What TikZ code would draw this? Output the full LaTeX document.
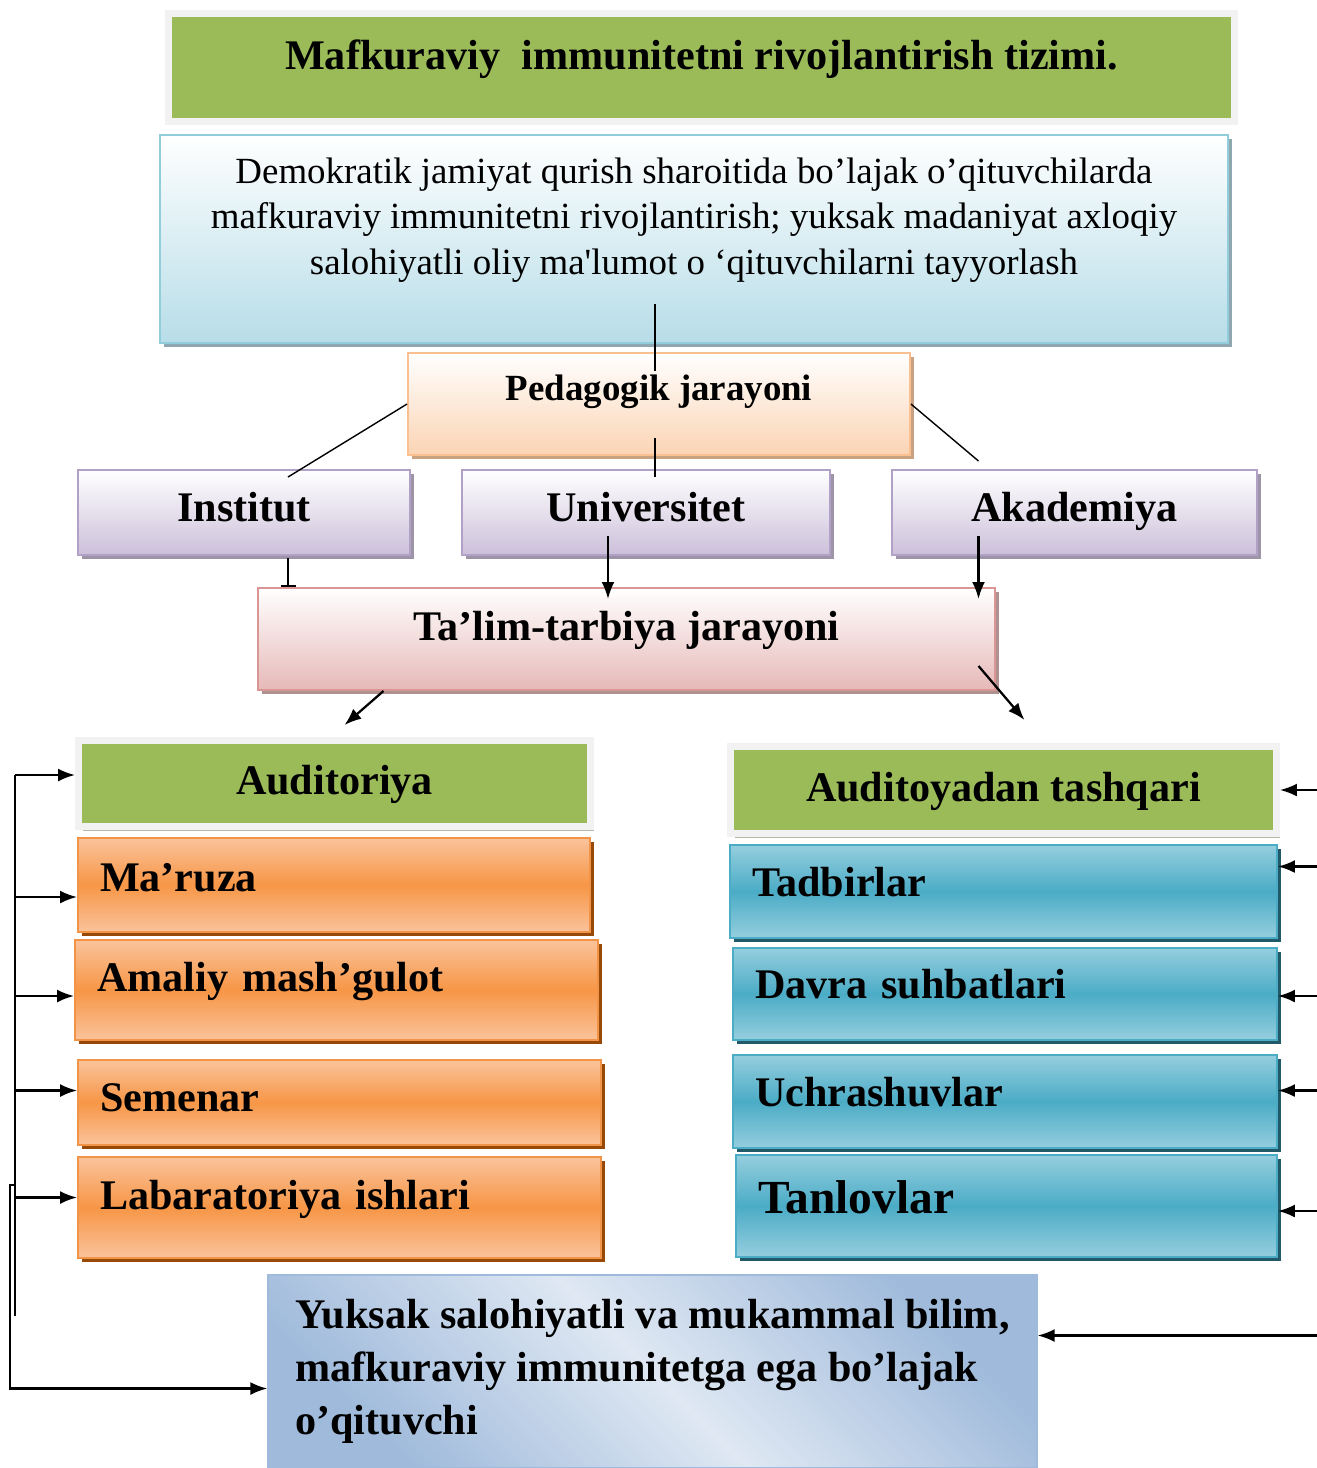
\documentclass[tikz,border=0pt]{standalone}
\usepackage{fontspec}
\setmainfont{Liberation Serif}
\usepackage{tikz}
\usetikzlibrary{
    arrows.meta,
    positioning,
    shadows,
    calc
}

\definecolor{hdrgreen}{HTML}{9BBB59}
\definecolor{framegray}{HTML}{F2F2F2}
\definecolor{hdrshadow}{HTML}{B3B9A6}
\definecolor{goalblue}{HTML}{B7DDE8}
\definecolor{goalline}{HTML}{92CDDC}
\definecolor{goalshadow}{HTML}{8FA7B0}
\definecolor{peach}{HTML}{FBD4B4}
\definecolor{peachline}{HTML}{FAC090}
\definecolor{peachshadow}{HTML}{C9A282}
\definecolor{lavender}{HTML}{CCC0DA}
\definecolor{lavline}{HTML}{B2A1C7}
\definecolor{lavshadow}{HTML}{9E94A8}
\definecolor{rose}{HTML}{E6B9B8}
\definecolor{roseline}{HTML}{D99694}
\definecolor{roseshadow}{HTML}{B09191}
\definecolor{orlight}{HTML}{FAC39B}
\definecolor{ormid}{HTML}{F79646}
\definecolor{orline}{HTML}{F29447}
\definecolor{orshadow}{HTML}{984807}
\definecolor{cylight}{HTML}{95CEDE}
\definecolor{cymid}{HTML}{4BACC6}
\definecolor{cyshadow}{HTML}{215968}
\definecolor{steel}{HTML}{9FBADB}
\definecolor{steellight}{HTML}{DFE8F3}

\begin{document}
\begin{tikzpicture}[
    x=0.02cm, y=-0.02cm,
    >={Latex[length=0.34cm, width=0.26cm]},
    casts/.style={drop shadow={shadow xshift=0.08cm, shadow yshift=-0.08cm,
                  opacity=1, fill=#1}},
    bigtxt/.style={font=\fontsize{24}{29}\selectfont\bfseries, text height=16pt},
    hdr/.style={rectangle, inner sep=0pt, bigtxt, fill=hdrgreen,
                draw=framegray, line width=0.14cm, casts=hdrshadow},
    goalbox/.style={rectangle, inner sep=0pt, align=center,
                    font=\fontsize{21}{26}\selectfont,
                    top color=white, bottom color=goalblue,
                    draw=goalline, line width=0.04cm, casts=goalshadow},
    pedbox/.style={rectangle, inner sep=0pt,
                   font=\fontsize{21}{25}\selectfont\bfseries, text height=14pt,
                   top color=white, bottom color=peach,
                   draw=peachline, line width=0.04cm, casts=peachshadow},
    tierbox/.style={rectangle, inner sep=0pt, bigtxt, minimum height=1.7cm,
                    top color=white, bottom color=lavender,
                    draw=lavline, line width=0.04cm, casts=lavshadow},
    rosebox/.style={rectangle, inner sep=0pt, bigtxt,
                    top color=white, bottom color=rose,
                    draw=roseline, line width=0.04cm, casts=roseshadow},
    orbox/.style={rectangle, inner ysep=0pt, inner xsep=0.44cm, bigtxt, align=left,
                  top color=orlight, bottom color=orlight, middle color=ormid,
                  draw=orline, line width=0.04cm, casts=orshadow},
    cybox/.style={rectangle, inner ysep=0pt, inner xsep=0.44cm, bigtxt, align=left,
                  top color=cylight, bottom color=cylight, middle color=cymid,
                  draw=cymid, line width=0.04cm, casts=cyshadow},
    endbox/.style={rectangle, inner sep=0pt, align=left,
                   font=\fontsize{24}{30}\selectfont\bfseries,
                   top color=steel, bottom color=steel, middle color=steellight,
                   shading angle=-45, draw=steel, line width=0.03cm},
    link/.style={line width=0.045cm},
    thinlink/.style={line width=0.028cm}
]
\useasboundingbox (0,0) rectangle (1317,1468);

% =========================
% 1) HEADER AND GOAL
% =========================
\node[hdr, minimum width=21.32cm, minimum height=2.16cm, text depth=14pt]
    (title) at (701.5,67.5) {Mafkuraviy\ \ immunitetni rivojlantirish tizimi.};

\node[goalbox, minimum width=21.36cm, minimum height=4.16cm] (goal) at (694,239)
    {Demokratik jamiyat qurish sharoitida bo’lajak o’qituvchilarda\\
     mafkuraviy immunitetni rivojlantirish; yuksak madaniyat axloqiy\\
     salohiyatli oliy ma\textquotesingle lumot o ‘qituvchilarni tayyorlash\\
     \mbox{}};

% =========================
% 2) PROCESS AND INSTITUTIONS
% =========================
\node[pedbox, minimum width=10.04cm, minimum height=2.04cm, text depth=18pt]
    (ped) at (659,404) {Pedagogik jarayoni};

\node[tierbox, minimum width=6.64cm, text depth=6pt]  (inst) at (244,512.5)    {Institut};
\node[tierbox, minimum width=7.36cm, text depth=6pt]  (univ) at (646,512.5)    {Universitet};
\node[tierbox, minimum width=7.3cm, text depth=6pt]   (aka)  at (1074.5,512.5) {Akademiya};

\node[rosebox, minimum width=14.74cm, minimum height=2.04cm, text depth=14pt]
    (talim) at (626.5,639) {Ta’lim-tarbiya jarayoni};

\draw[thinlink] ($(ped.north)+(-4,-48)$) -- ($(ped.north)+(-4,19)$);
\draw[thinlink] (ped.west) -- ($(inst.north)+(44,8)$);
\draw[thinlink] ($(ped.south)+(-4,-18)$) -- ($(univ.north)+(9,8)$);
\draw[thinlink] (ped.east) -- ($(aka.north)+(-96,-8)$);

\draw[link, -{Bar[width=0.3cm]}] ($(inst.south)+(44,2)$) -- ($(talim.north -| inst.south)+(44,0)$);
\draw[link, ->] ($(univ.south)+(-38,-20)$) -- ($(talim.north -| univ.south)+(-38,12)$);
\draw[link, ->] ($(aka.south)+(-96,-20)$) -- ($(talim.north -| aka.south)+(-96,12)$);

% =========================
% 3) TWO BRANCHES
% =========================
\node[hdr, minimum width=10.24cm, minimum height=1.72cm, text depth=4pt]
    (aud) at (334.5,783.5) {Auditoriya};
\node[hdr, minimum width=10.92cm, minimum height=1.74cm, text depth=3pt]
    (atq) at (1003.5,790) {Auditoyadan tashqari};

\draw[link, ->] ($(talim.south)+(-243,0)$) -- ($(aud.north)+(10,-12)$);
\draw[link, ->] ($(talim.south)+(352,-25)$) -- ($(atq.north)+(21,-23)$);

\node[orbox, text width=9.36cm, minimum height=1.88cm, text depth=9pt]
    (maruza) at (334,885) {Ma’ruza};
\node[orbox, text width=9.58cm, minimum height=2.0cm, text depth=14pt]
    (amaliy) at (336.5,990) {Amaliy mash’gulot};
\node[orbox, text width=9.58cm, minimum height=1.7cm, text depth=6pt]
    (semenar) at (339.5,1102.5) {Semenar};
\node[orbox, text width=9.58cm, minimum height=2.02cm, text depth=14pt]
    (lab) at (339.5,1207.5) {Labaratoriya ishlari};

\node[cybox, text width=10.06cm, minimum height=1.86cm, text depth=10pt]
    (tad) at (1003.5,891.5) {Tadbirlar};
\node[cybox, text width=10.0cm, minimum height=1.84cm, text depth=11pt]
    (davra) at (1005,994) {Davra suhbatlari};
\node[cybox, text width=10.0cm, minimum height=1.86cm, text depth=10pt]
    (uchr) at (1005,1101.5) {Uchrashuvlar};
\node[cybox, text width=9.94cm, minimum height=2.04cm, text depth=10pt,
      font=\fontsize{27}{32}\selectfont\bfseries, text height=18pt]
    (tanl) at (1006.5,1206) {Tanlovlar};

% =========================
% 4) RESULT
% =========================
\node[endbox, minimum width=15.38cm, minimum height=3.86cm] (final) at (652.5,1371.5)
    {Yuksak salohiyatli va mukammal bilim,\\
     mafkuraviy immunitetga ega bo’lajak\\
     o’qituvchi};

% left feed
\coordinate (ltop)  at (15,775);
\coordinate (lbot)  at (15,1316);
\coordinate (lstub) at (15,1185);
\draw[link] (ltop) -- (lbot);
\draw[link, ->] (ltop) -- (ltop -| aud.west);
\draw[link, ->] ($(ltop |- maruza.west)+(0,12)$) -- ($(maruza.west)+(0,12)$);
\draw[link, ->] ($(ltop |- amaliy.west)+(0,6)$) -- ($(amaliy.west)+(0,6)$);
\draw[link, ->] ($(ltop |- semenar.west)+(0,-12)$) -- ($(semenar.west)+(0,-12)$);
\draw[link, ->] ($(ltop |- lab.west)+(0,-10)$) -- ($(lab.west)+(0,-10)$);
\draw[link, ->] (lstub) -- ++(-5,0) |- ($(final.west)+(0,17)$);

% right feed
\coordinate (redge) at (1317,790);
\draw[link, <-] (atq.east) -- (atq.east -| redge);
\draw[link, <-] ($(tad.east)+(0,-25)$) -- ($(tad.east -| redge)+(0,-25)$);
\draw[link, <-] ($(davra.east)+(0,2)$) -- ($(davra.east -| redge)+(0,2)$);
\draw[link, <-] ($(uchr.east)+(0,-11)$) -- ($(uchr.east -| redge)+(0,-11)$);
\draw[link, <-] ($(tanl.east)+(0,5)$) -- ($(tanl.east -| redge)+(0,5)$);
\draw[link, <-] ($(final.east)+(0,-36)$) -- ($(final.east -| redge)+(0,-36)$);

\end{tikzpicture}
\end{document}
